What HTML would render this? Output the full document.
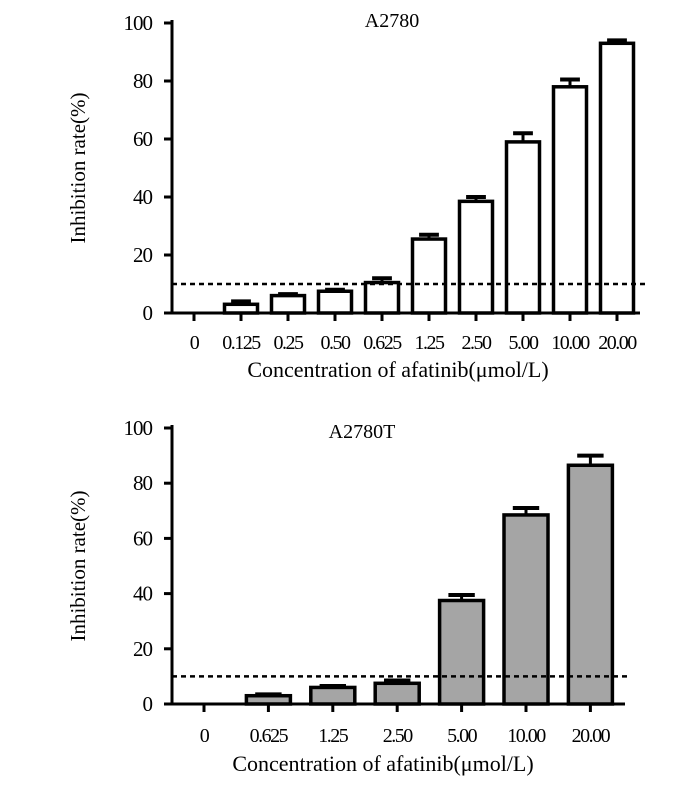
<!DOCTYPE html>
<html><head><meta charset="utf-8"><style>
body{margin:0;background:#fff}
svg text{font-family:"Liberation Serif",serif;fill:#000}
</style></head><body>
<svg id="s" width="700" height="795" xmlns="http://www.w3.org/2000/svg"></svg>
<script>
const catsA=["0","0.125","0.25","0.50","0.625","1.25","2.50","5.00","10.00","20.00"];
const valsA=[0,3,6,7.5,10.5,25.5,38.5,59,78,93];
const errA=[0,1,0.5,0.5,1.5,1.5,1.5,3,2.5,1];
const catsB=["0","0.625","1.25","2.50","5.00","10.00","20.00"];
const valsB=[0,3,6,7.5,37.5,68.5,86.5];
const errB=[0,0.5,0.5,1,2,2.5,3.5];
const yTicks=[0,20,40,60,80,100];
const threshold=10;
const NS="http://www.w3.org/2000/svg";
const svg=document.getElementById('s');
function el(t,a,p){const e=document.createElementNS(NS,t);for(const k in a)e.setAttribute(k,a[k]);(p||svg).appendChild(e);return e;}
function chart(o){
  const g=el('g',{});
  
  
  const y=v=>o.y0-(o.y0-o.y100)*v/100;
  const x=i=>o.x0+i*o.step;
  const ya=el('line',{x1:o.ax,y1:o.y100-3,x2:o.ax,y2:o.y0,stroke:'#000','stroke-width':3},g);
  
  const xa=el('line',{x1:o.ax,y1:o.y0,x2:o.axEnd,y2:o.y0,stroke:'#000','stroke-width':3},g);
  
  yTicks.forEach(t=>{
    el('line',{x1:o.ax-8,y1:y(t),x2:o.ax,y2:y(t),stroke:'#000','stroke-width':3},g);
    const tx=el('text',{x:o.ax-20,y:y(t)+7,'text-anchor':'end','font-size':21,'letter-spacing':'-1'},g);tx.textContent=t;
    
  });
  o.cats.forEach((c,i)=>{
    el('line',{x1:x(i),y1:o.y0,x2:x(i),y2:o.y0+8,stroke:'#000','stroke-width':3},g);
    const tx=el('text',{x:x(i),y:o.y0+o.tickDy,'text-anchor':'middle','font-size':20,'letter-spacing':'-1.5'},g);tx.textContent=c;
    
    const v=o.vals[i];
    if(v>0){
      const e=o.errs[i];
      el('line',{x1:x(i),y1:y(v),x2:x(i),y2:y(v+e),stroke:'#000','stroke-width':3},g);
      el('line',{x1:x(i)-o.bw*0.3,y1:y(v+e),x2:x(i)+o.bw*0.3,y2:y(v+e),stroke:'#000','stroke-width':4},g);
      const r=el('rect',{x:x(i)-o.bw/2,y:y(v),width:o.bw,height:y(0)-y(v),fill:o.fill,stroke:'#000','stroke-width':3.5},g);
      
    }
  });
  const d=el('line',{x1:o.ax,y1:y(threshold),x2:o.dashEnd,y2:y(threshold),stroke:'#000','stroke-width':2.5,'stroke-dasharray':'5,4'},g);
  
  const t=el('text',{x:o.titleX,y:o.titleY,'text-anchor':'middle','font-size':20},g);t.textContent=o.title;
  
  const xl=el('text',{x:o.xlX,y:o.y0+o.xlDy,'text-anchor':'middle','font-size':22},g);xl.textContent='Concentration of afatinib(μmol/L)';
  
  const yl=el('text',{x:0,y:0,'text-anchor':'middle','font-size':21,transform:`translate(${o.ax-87},${(o.y0+o.y100)/2}) rotate(-90)`},g);yl.textContent='Inhibition rate(%)';
  
}
chart({name:'chart-a2780',cats:catsA,vals:valsA,errs:errA,ax:172,axEnd:640,dashEnd:645,y0:313,y100:23,x0:194,step:47,bw:33,fill:'#fff',title:'A2780',titleX:392,titleY:27,xlX:398,tickDy:36,xlDy:64});
chart({name:'chart-a2780t',cats:catsB,vals:valsB,errs:errB,ax:172,axEnd:625,dashEnd:628,y0:704,y100:428,x0:204,step:64.4,bw:44,fill:'#a5a5a5',title:'A2780T',titleX:362,titleY:438,xlX:383,tickDy:38,xlDy:67});
</script>
</body></html>
